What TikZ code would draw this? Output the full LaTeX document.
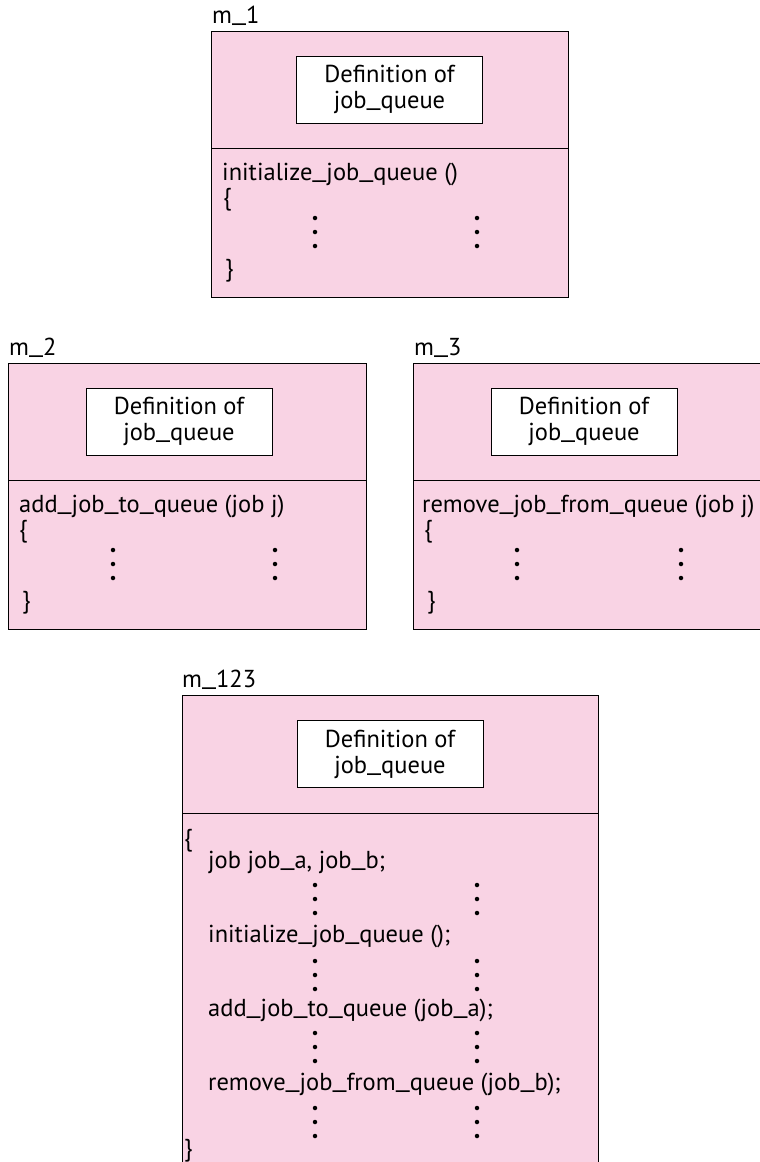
\documentclass[tikz,border=0pt]{standalone}
\usepackage{fontspec}
\usepackage{graphicx}
\setmainfont{PT Sans}
\usetikzlibrary{positioning}
\definecolor{modpink}{RGB}{249,211,228}
\tikzstyle{part} = [draw, fill=modpink, rectangle, line width=1pt,
    inner sep=0pt, outer sep=0pt]
\tikzstyle{defbox} = [draw, fill=white, rectangle, line width=1pt,
    minimum width=186pt, minimum height=67pt, align=center, inner sep=0pt]
\tikzstyle{code} = [anchor=base west, inner sep=0pt]
\tikzstyle{dot} = [fill, circle, inner sep=0pt, minimum size=4.5pt]
\newcommand{\us}{\raisebox{0.12em}{\scalebox{1.4}[1]{\_}}}
\newcommand{\colondots}[2]{\foreach \d in {0,14,28} \node[dot] at (#1,#2+\d) {};}

\begin{document}
\begin{tikzpicture}[x=1pt, y=-1pt, font=\fontsize{24.5}{26}\selectfont]
        \useasboundingbox (0,0) rectangle (760,1162);

        % m_1
        \node[part, anchor=north west, minimum width=357pt, minimum height=117pt](m1top) at (211,31){};
        \node[part, below=0pt of m1top, minimum width=357pt, minimum height=149pt](m1body){};
        \node[code](m1name) at (212,23){m\us 1};
        \node[defbox](m1def) at (m1top.center){Definition of\\job\us queue};
        \node[code](m1head) at (222,180){initialize\us job\us queue ()};
        \node[code](m1open) at (223,205){\{};
        \node[code](m1close) at (225,276){\}};
        \colondots{315}{218}
        \colondots{477}{218}

        % m_2
        \node[part, anchor=north west, minimum width=358pt, minimum height=117pt](m2top) at (8,363){};
        \node[part, below=0pt of m2top, minimum width=358pt, minimum height=149pt](m2body){};
        \node[code](m2name) at (9,355){m\us 2};
        \node[defbox](m2def) at (179,421.5){Definition of\\job\us queue};
        \node[code](m2head) at (19,512){add\us job\us to\us queue (job j)};
        \node[code](m2open) at (19,537){\{};
        \node[code](m2close) at (22,608){\}};
        \colondots{113}{550}
        \colondots{275}{550}

        % m_3
        \node[part, anchor=north west, minimum width=358pt, minimum height=117pt](m3top) at (413,363){};
        \node[part, below=0pt of m3top, minimum width=358pt, minimum height=149pt](m3body){};
        \node[code](m3name) at (414,355){m\us 3};
        \node[defbox](m3def) at (584,421.5){Definition of\\job\us queue};
        \node[code](m3head) at (422,512){remove\us job\us from\us queue (job j)};
        \node[code](m3open) at (424,537){\{};
        \node[code](m3close) at (427,608){\}};
        \colondots{517}{550}
        \colondots{681}{550}

        % m_123
        \node[part, anchor=north west, minimum width=416pt, minimum height=118pt](m123top) at (182,695){};
        \node[part, below=0pt of m123top, minimum width=416pt, minimum height=380pt](m123body){};
        \node[code](m123name) at (182,687){m\us 123};
        \node[defbox](m123def) at (m123top.center){Definition of\\job\us queue};
        \node[code](m123open) at (184,846){\{};
        \node[code](m123decl) at (208,868){job job\us a, job\us b;};
        \node[code](m123init) at (208,942){initialize\us job\us queue ();};
        \node[code](m123add) at (208,1016){add\us job\us to\us queue (job\us a);};
        \node[code](m123rem) at (208,1090){remove\us job\us from\us queue (job\us b);};
        \node[code](m123close) at (184,1156){\}};
        \foreach \y in {885,961,1033,1108} {
            \colondots{315}{\y}
            \colondots{477}{\y}
        }
    \end{tikzpicture}
\end{document}
